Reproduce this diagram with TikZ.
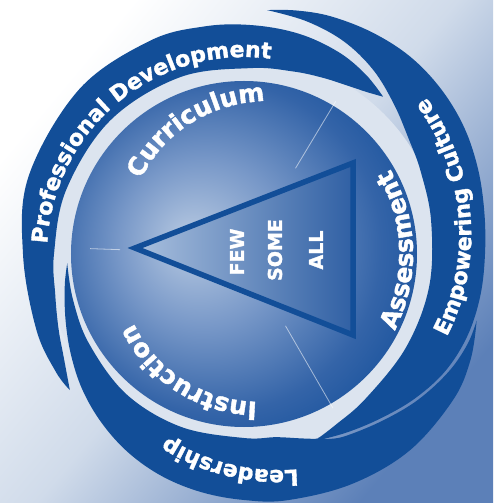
\documentclass[tikz,border=0pt]{standalone}
\usepackage{fontspec}
\usetikzlibrary{decorations.text}
\newfontfamily\wheelfont{DejaVu Sans Bold}[FakeBold=1.6]
\definecolor{bandblue}{RGB}{18,78,152}
\definecolor{gapcol}{RGB}{220,228,239}
\definecolor{bgmid}{RGB}{208,219,234}
\definecolor{bgdark}{RGB}{92,128,184}
\definecolor{glowlight}{RGB}{184,202,226}
\definecolor{glowmid}{RGB}{120,152,200}
\definecolor{discmid}{RGB}{52,100,168}
\definecolor{discdark}{RGB}{18,78,154}
\definecolor{tipcol}{RGB}{170,192,222}
\definecolor{basecol}{RGB}{48,96,164}
\pgfdeclareradialshading{discglow}{\pgfpoint{-8bp}{2bp}}{color(0bp)=(glowlight); color(12bp)=(glowmid); color(24bp)=(discmid); color(33bp)=(discdark); color(50bp)=(discdark)}
\newcommand\outerfont{\wheelfont\fontsize{22}{22}\selectfont}
\newcommand\innerfont{\wheelfont\fontsize{25}{25}\selectfont}
% text along a spiral arc: from angle, to angle, radius at start, radius at end, text
\newcommand\ringlabel[5]{%
  \path[decorate, decoration={text along path, text color=white, text={#5}}]
    plot[domain=#1:#2, samples=90] (\x:{#3+(#4-#3)*(\x-(#1))/((#2)-(#1))});
}
\tikzset{
  band/.style={fill=bandblue},
  spoke/.style={draw=white, opacity=0.55, line width=0.8},
  level/.style={text=white, rotate=90, font=\wheelfont\fontsize{19}{19}\selectfont}
}
\begin{document}
\begin{tikzpicture}[x=1pt,y=1pt]
\useasboundingbox (-244,-249) rectangle (249,254);
\shade[left color=white, right color=bgdark, middle color=bgmid, shading angle=50] (-244,-249) rectangle (249,254);
% light ring behind the swooshes
\fill[gapcol] (0,0) circle (198);
% Leadership swoosh
\fill[band] plot[smooth, tension=0.6] coordinates {(-16:242) (-25:250) (-35:255) (-50:257) (-65:254) (-80:250) (-90:246) (-100:242) (-110:237) (-120:230) (-130:221) (-140:211) (-150:200) (-160:190) (-170:182) (-177:177)}
  -- plot[smooth, tension=0.6] coordinates {(-177:177) (-165:177) (-150:179) (-130:183) (-110:184) (-90:184) (-80:186) (-72:194) (-65:204) (-60:209) (-50:217) (-40:227) (-30:236) (-22:241) (-16:242)} -- cycle;
% Professional Development swoosh
\fill[band] plot[smooth, tension=0.6] coordinates {(218:221) (212:222) (200:221) (180:221) (160:229) (135:233) (114:233) (100:231) (88:229) (76:227) (65:223) (56:217) (48.5:210)}
  -- plot[smooth, tension=0.6] coordinates {(48.5:210) (53:203) (58:198) (66:193) (75:189) (88:186) (110:188) (135:189) (160:189) (180:190) (192:193) (202:200) (210:208) (218:221)} -- cycle;
% Empowering Culture swoosh
\fill[band] plot[smooth, tension=0.6] coordinates {(84.6:245) (78:249) (70:253) (60:256) (50:258) (40:257) (30:254) (20:249) (10:244) (0:241) (-10:240) (-20:238) (-30:233) (-40:224) (-50:214) (-60:206) (-69.5:200)}
  -- plot[smooth, tension=0.6] coordinates {(-69.5:200) (-62:194) (-50:189) (-30:187) (-10:188) (10:190) (25:195) (35:201) (45:212) (55:225) (65:235) (75:241) (84.6:245)} -- cycle;
% inner disc
\shade[shading=discglow] (0,0) circle (173);
% pyramid
\coordinate (tip) at (-109,6);
\coordinate (top) at (109,91);
\coordinate (bot) at (109,-81);
\shade[left color=tipcol, right color=basecol] (tip) -- (top) -- (bot) -- cycle;
\draw[bandblue, line width=5.5] (tip) -- (top) -- (bot) -- cycle;
\draw[spoke] (59:100) -- (59:178);
\draw[spoke] (-60:83) -- (-60:178);
\draw[spoke] (178:124) -- (178:154);
\node[level] (few) at (-7,2) {FEW};
\node[level] (some) at (31,4) {SOME};
\node[level] (all) at (72,4) {ALL};
% labels
\ringlabel{177}{40}{197}{197}{|\outerfont|Professional Development}
\ringlabel{-22.2}{70}{219}{250}{|\outerfont|Empowering Culture}
\ringlabel{-75.9}{-150}{222.1}{175}{|\outerfont|Leadership}
\ringlabel{144}{40}{127.3}{172.7}{|\innerfont|Curriculum}
\ringlabel{-27}{60}{169}{169}{|\innerfont|Assessment}
\ringlabel{-84.9}{-200}{148.5}{115.1}{|\innerfont|Instruction}
\end{tikzpicture}
\end{document}
